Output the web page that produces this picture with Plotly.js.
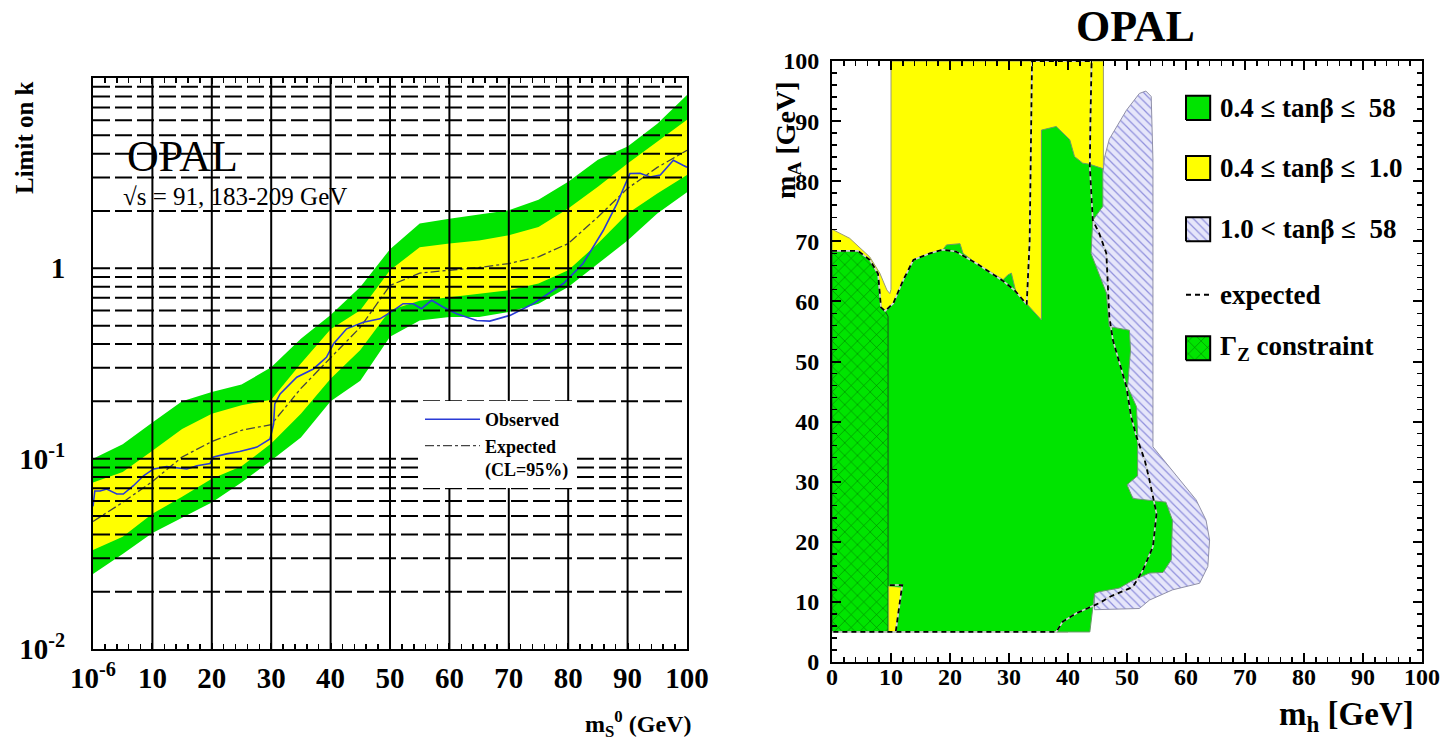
<!DOCTYPE html>
<html><head><meta charset="utf-8">
<script src="https://cdn.plot.ly/plotly-3.0.1.min.js"></script>
<style>html,body{margin:0;padding:0;background:#fff;}#chart{width:1447px;height:741px;}</style>
</head><body><div id="chart"></div>
<script>
// ===== Left panel: limit on k versus m_S0 =====
const massGrid  = [0,5,10,15,20,25,30,35,40,45,50,55,60,65,70,75,80,85,90,95,100];
const band2Up   = [0.100,0.119,0.155,0.200,0.224,0.245,0.302,0.427,0.569,0.798,1.26,1.72,1.82,1.91,2.02,2.29,2.85,3.72,4.37,5.75,8.13];
const band1Up   = [0.0750,0.0851,0.110,0.143,0.172,0.191,0.204,0.316,0.479,0.603,0.977,1.29,1.35,1.40,1.49,1.65,2.06,2.68,3.55,4.62,6.03];
const expectedK = [0.0468,0.0589,0.0759,0.102,0.123,0.141,0.151,0.234,0.339,0.490,0.813,0.944,0.977,1.01,1.06,1.15,1.35,1.86,2.63,3.39,4.17];
const band1Down = [0.0331,0.0389,0.0513,0.0631,0.0785,0.0912,0.120,0.172,0.263,0.372,0.603,0.676,0.708,0.736,0.766,0.832,0.977,1.35,1.94,2.47,3.09];
const band2Down = [0.0248,0.0316,0.0407,0.0490,0.0589,0.0750,0.0977,0.129,0.200,0.257,0.437,0.532,0.555,0.555,0.589,0.652,0.798,1.06,1.40,1.94,2.51];
const obsMass = [0,0.3,1.2,2.3,4.0,5.1,6.8,8.5,10.2,12.4,15.8,17.5,19.7,20.3,22.5,24.7,27.6,29.8,30.4,30.6,31.5,34.3,37.1,39.3,40.5,42.7,45.5,48.3,50.6,52.2,53.9,55.3,57.0,59.0,61.2,64.6,66.8,70.2,74.1,79.2,82.5,85.9,88.2,90.4,92.1,93.8,95.5,97.7,99.4,100];
const obsK    = [0.0562,0.0676,0.0676,0.0692,0.0652,0.0652,0.0721,0.0813,0.0883,0.0908,0.0883,0.0918,0.0944,0.102,0.106,0.109,0.115,0.127,0.152,0.194,0.219,0.268,0.296,0.341,0.402,0.481,0.521,0.543,0.601,0.652,0.652,0.614,0.679,0.625,0.577,0.532,0.528,0.566,0.652,0.832,1.06,1.58,2.19,3.15,3.16,3.02,3.09,3.70,3.47,3.40];
const massTickVals   = [0,10,20,30,40,50,60,70,80,90,100];
const massTickLabels = ['10<sup>-6</sup>','10','20','30','40','50','60','70','80','90','100'];
const kTickVals   = [0.01,0.1,1];
const kTickLabels = ['10<sup>-2</sup>','10<sup>-1</sup>','1'];

// ===== Right panel: excluded regions in (m_h, m_A) =====
const yellowMh = [0,0,3,6.4,8.1,9.3,9.8,10,10,46,46,44,40];
const yellowMa = [5,72,70.5,67.4,64.7,61.9,61.3,62,100,100,82,70,5];
const hatchMh = [46,46.2,47,48.5,49.9,52.1,53.2,54.1,54.4,54.4,56.6,58.9,61.7,63.4,64,63.7,62.3,57.7,53.8,52.1,44.5,44.5,43,43];
const hatchMa = [82,84,87,89.5,91.8,94.6,95,94.1,83.5,35.8,33.1,30.3,27,23.6,20.3,15.9,13.1,12,10.3,8.9,8.7,11.4,40,75];
const greenMh = [9,9,10.4,12.1,13.8,16.6,18.8,19.4,21.7,22.2,24.5,29,29.8,30.4,31.2,32.9,35.5,35.5,38,40.3,41.1,42.5,43.7,45.9,45.9,44.2,43.9,46.5,47,50.4,50.6,50.1,51.6,51.8,51.8,50,51,56.6,57.7,57.5,56.1,53.8,51,48.7,45.3,44.5,44.3,43.7];
const greenMa = [5,58.4,59.7,63.6,66.9,68.0,68.6,69.4,69.6,68.0,66.3,63.6,64.4,64.7,61.4,59.7,56.9,88.5,89.1,86.9,84.1,83,82.8,82.1,75.8,73.5,68,61.4,55.8,55.2,51.9,45.8,42.5,38,31,29.5,27.2,26.6,23.6,17,14.9,14.8,13.6,12.3,11.7,11.4,9.8,5];
const gammaZMh = [0,0,4.4,6.4,7.8,8.1,8.3,9.0,9.5,9.5];
const gammaZMa = [5,68.4,68.4,66.9,64.6,61.3,59.0,58.4,57.5,5];
const sliverMh = [9.6,9.6,11.9,10.8];
const sliverMa = [5,12.6,12.4,5];
const expMh = [0,4.4,6.4,7.8,8.1,8.3,9.0,10.4,12.1,13.8,16.6,18.8,21.0,24.5,29.0,31.0,33.0,33.5,33.9,44.0,43.8,43.7,44.2,45.3,46.5,46.8,47.0,47.6,49.9,50.7,51.6,53.0,53.8,55.0,54.4,52.7,51.0,47.2,45.3,41.4,39.1,38.0,0];
const expMa = [68.4,68.4,66.9,64.6,61.3,59.0,58.4,59.7,63.6,66.9,68.0,68.6,68.3,66.3,63.4,61.8,59.5,70,100,100,90,82.5,73.5,71.3,68,61.4,57.5,53.6,45.8,40.8,37.5,33.6,30.3,24.7,19.2,15.3,12.5,10.9,9.8,8.1,6.7,5,5];
const expSliverMh = [9.8,11.9,10.8];
const expSliverMa = [12.8,12.8,5];
const rightTickVals = [0,10,20,30,40,50,60,70,80,90,100];
const legendLabels = ['0.4 \u2264 tan\u03b2 \u2264 \u00a058','0.4 \u2264 tan\u03b2 \u2264 \u00a01.0','1.0 &lt; tan\u03b2 \u2264 \u00a058','expected','\u0393<sub>Z</sub> constraint'];

// ===== styling =====
const W = 1447, H = 741;
const FONT = 'Liberation Serif, Times New Roman, serif';
const GREEN = '#00e400', YELLOW = '#ffff00';
const px = v => v / W, py = v => 1 - v / H;
const hatchPattern = {shape:'\\', bgcolor:'#e6e6fa', fgcolor:'#8f8fdc', size:6, solidity:0.2};
const crossPattern = {shape:'x', bgcolor:GREEN, fgcolor:'#007a00', size:9, solidity:0.12};

const rev = a => a.slice().reverse();
const traces = [];
// left panel bands
traces.push({x: massGrid.concat(rev(massGrid)), y: band2Up.concat(rev(band2Down)), xaxis:'x', yaxis:'y',
  mode:'lines', fill:'toself', fillcolor:GREEN, line:{width:0, color:GREEN}, showlegend:false, hoverinfo:'skip'});
traces.push({x: massGrid.concat(rev(massGrid)), y: band1Up.concat(rev(band1Down)), xaxis:'x', yaxis:'y',
  mode:'lines', fill:'toself', fillcolor:YELLOW, line:{width:0, color:YELLOW}, showlegend:false, hoverinfo:'skip'});
traces.push({x: massGrid, y: expectedK, xaxis:'x', yaxis:'y', mode:'lines', name:'<b>Expected</b><br><b>(CL=95%)</b>',
  line:{color:'#444', width:1.3, dash:'dashdot'}, legendrank:2, hoverinfo:'skip'});
traces.push({x: obsMass, y: obsK, xaxis:'x', yaxis:'y', mode:'lines', name:'<b>Observed</b>',
  line:{color:'#2a3bd6', width:1.6}, legendrank:1, hoverinfo:'skip'});

// right panel regions
const poly = (xs, ys, extra) => Object.assign({x: xs.concat([xs[0]]), y: ys.concat([ys[0]]), xaxis:'x2', yaxis:'y2',
  mode:'lines', fill:'toself', showlegend:false, hoverinfo:'skip'}, extra);
traces.push(poly(yellowMh, yellowMa, {fillcolor:YELLOW, line:{color:'#9a9a7a', width:1}}));
traces.push(poly(hatchMh, hatchMa, {fillcolor:'#e6e6fa', fillpattern:hatchPattern, line:{color:'#9090a8', width:1}}));
traces.push(poly(greenMh, greenMa, {fillcolor:GREEN, line:{color:'#6a9a6a', width:1}}));
traces.push(poly(gammaZMh, gammaZMa, {fillcolor:GREEN, fillpattern:crossPattern, line:{color:'#205020', width:1}}));
traces.push(poly(sliverMh, sliverMa, {fillcolor:YELLOW, line:{color:'#9a9a7a', width:0.5}}));
[[expMh, expMa],[expSliverMh, expSliverMa]].forEach(([xs, ys]) => {
  traces.push({x:xs, y:ys, xaxis:'x2', yaxis:'y2', mode:'lines', line:{color:'#d4d4d4', width:1.6}, showlegend:false, hoverinfo:'skip'});
  traces.push({x:xs, y:ys, xaxis:'x2', yaxis:'y2', mode:'lines', line:{color:'#000', width:1.8, dash:'5px,4px'}, showlegend:false, hoverinfo:'skip'});
});

// right legend symbols (drawn in the panel's own coordinates)
const legX0 = 60.0, legX1 = 64.1, legHalf = 2.0;
const legY = [92.2, 82.2, 72.0, 61.1, 52.2];
const legStyles = [
  {fillcolor:GREEN},
  {fillcolor:YELLOW},
  {fillcolor:'#e6e6fa', fillpattern:hatchPattern},
  null,
  {fillcolor:GREEN, fillpattern:crossPattern}
];
legStyles.forEach((st, i) => {
  if (st) {
    traces.push(poly([legX0, legX0, legX1, legX1], [legY[i]-legHalf, legY[i]+legHalf, legY[i]+legHalf, legY[i]-legHalf],
      Object.assign({line:{color:'#000', width:2}}, st)));
  } else {
    traces.push({x:[legX0, legX1+0.3], y:[legY[i], legY[i]], xaxis:'x2', yaxis:'y2', mode:'lines',
      line:{color:'#000', width:2, dash:'5px,4px'}, showlegend:false, hoverinfo:'skip'});
  }
});

// left grid lines drawn above the bands
const shapes = [];
massTickVals.slice(1, -1).forEach(v => shapes.push({type:'line', xref:'x', yref:'y', x0:v, x1:v, y0:0.01, y1:10,
  layer:'above', line:{color:'#000', width:2}}));
[0.01, 0.1, 1].forEach(d => {
  for (let m = 1; m <= 9; m++) {
    if (d === 0.01 && m === 1) continue;
    const v = d * m;
    shapes.push({type:'line', xref:'x', yref:'y', x0:0, x1:100, y0:v, y1:v, layer:'above',
      line:{color:'#000', width:2, dash:'17px,5px'}});
  }
});

const ann = (x, y, text, size, extra) => Object.assign({xref:'paper', yref:'paper', x:px(x), y:py(y), text:text,
  xanchor:'center', yanchor:'middle', showarrow:false, font:{family:FONT, size:size, color:'#000'}}, extra);
const annotations = [
  ann(125, 156, 'OPAL', 44, {xanchor:'left'}),
  ann(121, 197, '\u221As = 91, 183-209 GeV', 25, {xanchor:'left'}),
  ann(24, 138, '<b>Limit on k</b>', 25, {textangle:-90}),
  ann(638, 724, '<b>m<sub>S</sub><sup>0</sup> (GeV)</b>', 24),
  ann(1135, 26, '<b>OPAL</b>', 44),
  ann(787, 140, '<b>m<sub>A</sub> [GeV]</b>', 28, {textangle:-90}),
  ann(1346, 716, '<b>m<sub>h</sub> [GeV]</b>', 33)
];
legendLabels.forEach((t, i) => annotations.push({xref:'x2', yref:'y2', x:65.5, y:legY[i], xanchor:'left', yanchor:'middle',
  text:'<b>' + t + '</b>', showarrow:false, font:{family:FONT, size:27, color:'#000'}}));

const axisCommon = {showline:true, linecolor:'#000', linewidth:2, mirror:'allticks', showgrid:false, zeroline:false,
  fixedrange:true};
const layout = {
  width:W, height:H, margin:{l:0, r:0, t:0, b:0}, paper_bgcolor:'#fff', plot_bgcolor:'#fff',
  font:{family:FONT, color:'#000'},
  xaxis: Object.assign({}, axisCommon, {domain:[px(93), px(687)], range:[0,100], tickmode:'array',
    tickvals:massTickVals, ticktext:massTickLabels, ticks:'inside', ticklen:6, tickwidth:2, tickcolor:'#000',
    minor:{tickmode:'linear', tick0:0, dtick:2, ticks:'inside', ticklen:5, tickwidth:1.5, tickcolor:'#000'},
    tickfont:{family:FONT, size:29, weight:'bold'}, ticklabelstandoff:2, anchor:'y'}),
  yaxis: Object.assign({}, axisCommon, {domain:[py(649), py(78)], type:'log', range:[-2,1], tickmode:'array',
    tickvals:kTickVals, ticktext:kTickLabels, ticks:'', tickfont:{family:FONT, size:29, weight:'bold'},
    ticklabelstandoff:20, anchor:'x'}),
  xaxis2: Object.assign({}, axisCommon, {domain:[px(832), px(1422)], range:[0,100], tickmode:'array',
    tickvals:rightTickVals, ticks:'inside', ticklen:9, tickwidth:2, tickcolor:'#000',
    minor:{tickmode:'linear', tick0:0, dtick:2, ticks:'inside', ticklen:5, tickwidth:1.5, tickcolor:'#000'},
    tickfont:{family:FONT, size:24, weight:'bold'}, ticklabelstandoff:-8, anchor:'y2'}),
  yaxis2: Object.assign({}, axisCommon, {domain:[py(662), py(61)], range:[0,100], tickmode:'array',
    tickvals:rightTickVals, ticks:'inside', ticklen:9, tickwidth:2, tickcolor:'#000',
    minor:{tickmode:'linear', tick0:0, dtick:2, ticks:'inside', ticklen:5, tickwidth:1.5, tickcolor:'#000'},
    tickfont:{family:FONT, size:24, weight:'bold'}, ticklabelstandoff:6, anchor:'x2'}),
  showlegend:true,
  legend:{x:px(420), y:py(401), xanchor:'left', yanchor:'top', bgcolor:'#fff', borderwidth:0,
    font:{family:FONT, size:18, color:'#000'}, itemwidth:55, valign:'top', tracegroupgap:2,
    traceorder:'normal'},
  shapes:shapes,
  annotations:annotations
};
Plotly.newPlot('chart', traces, layout, {staticPlot:true, displayModeBar:false});
</script></body></html>
